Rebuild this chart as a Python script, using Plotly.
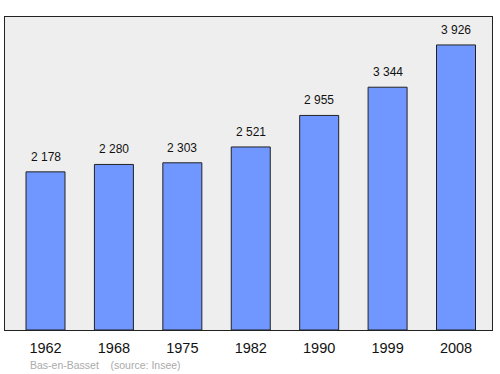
import plotly.graph_objects as go

years = ["1962", "1968", "1975", "1982", "1990", "1999", "2008"]
population = [2178, 2280, 2303, 2521, 2955, 3344, 3926]
labels = ["2 178", "2 280", "2 303", "2 521", "2 955", "3 344", "3 926"]

xs = list(range(len(years)))

fig = go.Figure()
fig.add_trace(go.Bar(
    x=xs, y=population, width=0.57,
    marker=dict(color="#7097ff", line=dict(color="#222222", width=1)),
    hoverinfo="skip",
))

for x, v, t in zip(xs, population, labels):
    fig.add_annotation(x=x, y=v, text=t, showarrow=False, yanchor="bottom",
                       yshift=6, font=dict(family="Liberation Sans, Arial", size=12, color="#111111"))

fig.add_annotation(xref="paper", yref="paper", x=-0.0, y=0, xanchor="left", yanchor="top",
                   text="Bas-en-Basset &nbsp;&nbsp; (source: Insee)", showarrow=False,
                   xshift=23, yshift=-27,
                   font=dict(family="Liberation Sans, Arial", size=10.5, color="#aaaaaa"))

fig.update_layout(
    width=500, height=374,
    margin=dict(l=5, r=8, t=17, b=44),
    paper_bgcolor="white", plot_bgcolor="#eeeeee",
    showlegend=False,
    xaxis=dict(range=[-0.592, 6.526], tickvals=xs, ticktext=years, showgrid=False,
               zeroline=False, showline=True, mirror=True, linecolor="#222222", linewidth=1,
               ticks="", ticklabelstandoff=5,
               tickfont=dict(family="Liberation Sans, Arial", size=14.5, color="#111111")),
    yaxis=dict(range=[0, 4311], showticklabels=False, showgrid=False, zeroline=False,
               showline=True, mirror=True, linecolor="#222222", linewidth=1, ticks=""),
)

fig.write_html("out.html")
